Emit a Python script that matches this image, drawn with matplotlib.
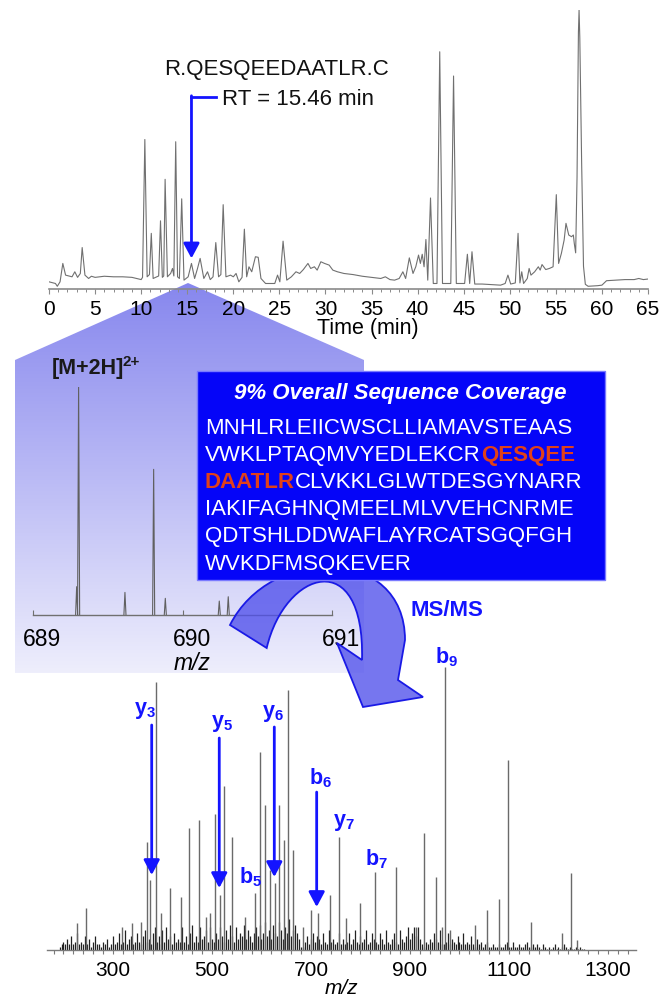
import numpy as np
import matplotlib
matplotlib.use("Agg")
import matplotlib.pyplot as plt
from matplotlib.path import Path
from matplotlib.patches import PathPatch, Polygon, Rectangle
from matplotlib.ticker import MultipleLocator, FixedLocator
import matplotlib.transforms as mtransforms

plt.rcParams["font.family"] = ["Liberation Sans", "DejaVu Sans"]
plt.rcParams["mathtext.fontset"] = "custom"
plt.rcParams["mathtext.rm"] = "Liberation Sans"
plt.rcParams["mathtext.bf"] = "Liberation Sans:bold"
plt.rcParams["mathtext.it"] = "Liberation Sans:italic"

# ======================= DATA =======================
# --- base peak chromatogram (time in min, relative intensity %) ---
chrom_time = [0, 0.7, 0.9, 1.2, 1.5, 1.8, 2.5, 2.8, 3.1, 3.4, 3.6, 3.9, 4.3, 4.6, 5, 6, 7, 8, 9, 10,
              10.15, 10.4, 10.65, 10.9, 11.1, 11.3, 11.7, 11.9, 12.1, 12.3, 12.45, 12.6, 12.85, 13.2,
              13.4, 13.55, 13.75, 13.95, 14.15, 14.4, 14.65, 15.1, 15.46, 15.8, 16.1, 16.4, 16.8, 17.2,
              17.5, 17.8, 18.1, 18.4, 18.65, 18.9, 19.2, 19.7, 20.0, 20.3, 20.6, 20.95, 21.2, 21.45,
              21.7, 22.0, 22.4, 22.7, 23.0, 23.5, 24.5, 24.8, 25.05, 25.4, 25.8, 26.3, 26.8, 27.2, 27.6,
              28.1, 28.4, 28.8, 29.1, 29.5, 29.9, 30.4, 30.8, 31.3, 32, 33, 34, 35, 36, 36.5, 37, 37.5,
              38.0, 38.4, 38.7, 39.1, 39.5, 39.8, 40.1, 40.3, 40.5, 40.7, 40.9, 41.1, 41.4, 41.7, 42.1,
              42.4, 42.7, 43.6, 43.9, 44.2, 45.1, 45.4, 45.65, 45.9, 46.2, 47, 48, 49, 49.5, 49.8, 50.1,
              50.6, 50.9, 51.1, 51.3, 51.5, 51.9, 52.1, 52.3, 52.7, 53.1, 53.3, 53.5, 53.9, 54.3, 54.7,
              55.05, 55.3, 55.6, 55.9, 56.1, 56.4, 56.7, 56.9, 57.0, 57.15, 57.3, 57.45, 57.52, 57.6,
              57.8, 58.0, 58.2, 58.5, 59.5, 60.0, 60.5, 61.5, 62.5, 63.5, 64, 64.5, 65]
chrom_int = [2.4, 1.8, 0.8, 2.4, 9.0, 4.8, 4.2, 6.0, 4.0, 5.4, 14.7, 4.8, 3.6, 4.4, 4.0, 4.4, 4.2, 4.2, 4.0, 3.2,
             4.0, 53.5, 4.2, 5.0, 19.8, 3.6, 4.2, 4.5, 24.3, 4.0, 4.5, 39.2, 4.2, 5.4,
             7.2, 4.5, 52.7, 4.2, 3.6, 32.2, 3.0, 4.2, 9.0, 3.6, 7.0, 10.8, 3.6, 6.0,
             3.2, 4.2, 16.5, 4.2, 5.0, 30.1, 4.2, 4.8, 4.2, 5.4, 2.4, 4.0, 21.3, 4.2,
             7.8, 6.0, 11.4, 11.2, 3.6, 1.8, 1.8, 4.8, 2.4, 17.0, 3.0, 4.2, 6.0, 5.4, 6.8,
             9.0, 7.2, 7.8, 6.6, 9.6, 9.0, 8.4, 6.6, 6.0, 5.4, 5.0, 4.4, 4.0, 3.6, 4.2, 3.2, 3.0,
             3.6, 6.0, 3.6, 11.0, 5.4, 7.8, 12.0, 9.0, 12.3, 7.8, 17.6, 3.0, 32.5, 1.8, 1.8,
             85.0, 1.8, 1.8, 76.3, 1.8, 1.8, 12.3, 1.8, 13.2, 1.6, 1.6, 1.4, 1.2, 1.8, 4.8, 1.6,
             2.0, 19.8, 2.0, 6.0, 1.8, 3.6, 7.2, 4.8, 6.0, 7.8, 6.6, 8.6, 6.8, 7.2, 7.8,
             33.7, 9.0, 12.6, 17.4, 23.4, 19.2, 18.6, 19.2, 16.2, 12.8, 40.0, 92.0, 100.0, 90.0,
             45.0, 8.0, 1.5, 0.8, 1.0, 1.2, 2.8, 3.0, 3.2, 3.2, 3.6, 3.2, 3.4]
chrom_ticks = [0, 5, 10, 15, 20, 25, 30, 35, 40, 45, 50, 55, 60, 65]
rt_target = 15.46
peptide_label = "R.QESQEEDAATLR.C"
rt_label = "RT = 15.46 min"

# --- precursor (MS1) spectrum ---
ms1_mz = [689.290, 689.303, 689.613, 689.805, 689.883, 690.244, 690.304]
ms1_int = [12.4, 100.0, 9.9, 63.8, 7.3, 6.1, 8.0]
ms1_ticks = [689, 690, 691]
ms1_label = "[M+2H]"
ms1_charge = "2+"

# --- sequence coverage ---
seq_title = "9% Overall Sequence Coverage"
seq_lines = [
    [("MNHLRLEIICWSCLLIAMAVSTEAAS", False)],
    [("VWKLPTAQMVYEDLEKCR", False), ("QESQEE", True)],
    [("DAATLR", True), ("CLVKKLGLWTDESGYNARR", False)],
    [("IAKIFAGHNQMEELMLVVEHCNRME", False)],
    [("QDTSHLDDWAFLAYRCATSGQFGH", False)],
    [("WVKDFMSQKEVER", False)],
]

# --- MS/MS spectrum ---
msms_peak_mz = [227.1, 246.2, 317.4, 339.1, 356.4, 369.4, 373.8, 386.8, 397.2, 414.6, 437.1, 454.5,
                472.8, 488.4, 497.0, 505.7, 515.3, 523.9, 540.4, 566.5, 586.4, 597.7, 606.4, 617.7,
                626.4, 635.0, 645.5, 654.1, 662.8, 683.7, 699.3, 714.9, 739.2, 757.4, 770.5, 799.1,
                829.5, 871.1, 911.9, 928.4, 951.9, 964.9, 970.1, 981.4, 1030.8, 1056.0, 1079.5,
                1097.8, 1144.6, 1207.1, 1224.4, 1237.4]
msms_peak_int = [9.4, 14.7, 8.2, 9.4, 10.0, 38.2, 24.7, 94.7, 13.0, 21.8, 18.8, 43.0,
                 45.9, 11.8, 13.0, 48.2, 19.4, 57.9, 40.0, 11.8, 20.0, 70.0, 51.4, 28.2,
                 23.5, 51.2, 38.8, 91.8, 35.3, 8.2, 14.0, 13.0, 19.4, 40.0, 11.2, 16.5,
                 27.6, 29.4, 8.2, 41.4, 25.9, 8.2, 100.0, 7.0, 8.8, 14.1, 17.9,
                 67.3, 10.0, 5.9, 27.3, 3.5]
noise_start = 192
noise_step = 4
noise_int = [1, 2, 3, 2, 4, 2, 5, 2, 3, 6, 2, 3, 2, 5, 2, 4, 1, 3, 5, 2,
             2, 1, 3, 2, 4, 1, 2, 5, 2, 3, 6, 2, 3, 7, 2, 4, 5, 2, 3, 6,
             3, 2, 5, 7, 3, 4, 2, 6, 8, 3, 5, 2, 7, 3, 8, 4, 5, 2, 6, 3,
             4, 3, 8, 3, 5, 2, 6, 9, 3, 5, 3, 8, 4, 5, 7, 3, 8, 4, 3, 6,
             4, 8, 5, 3, 7, 4, 9, 5, 3, 8, 4, 6, 5, 9, 4, 7, 5, 3, 6, 8,
             5, 9, 4, 6, 10, 5, 7, 4, 9, 6, 5, 10, 7, 4, 8, 6, 11, 5, 7, 9,
             6, 4, 1, 1, 3, 5, 2, 4, 6, 3, 5, 4, 2, 6, 3, 2, 7, 3, 4, 2,
             3, 6, 2, 4, 2, 3, 6, 2, 4, 7, 3, 2, 5, 3, 4, 7, 2, 3, 6, 4,
             3, 2, 6, 4, 2, 7, 3, 2, 4, 6, 3, 2, 7, 4, 3, 5, 8, 4, 6, 8,
             5, 8, 4, 2, 1, 3, 2, 4, 3, 6, 4, 3, 7, 2, 2, 3, 6, 2, 4, 3,
             2, 5, 3, 2, 6, 2, 3, 2, 5, 2, 1, 4, 2, 3, 1, 2, 3, 1, 1, 2,
             1, 1, 2, 1, 1, 2, 3, 1, 1, 3, 1, 1, 2, 1, 1, 2, 3, 1, 1, 2,
             1, 2, 1, 0.5, 2, 1, 0.5, 1, 0.5, 1, 2, 0.5, 1, 0.5, 1, 2, 1, 0.5, 1, 0.5,
             0.5, 1, 0.5, 1, 0.5, 0.5, 0, 0]
msms_ticks = [300, 500, 700, 900, 1100, 1300]

# fragment ions: label anchor (m/z, %) and arrowed ions
ion_names = ["y3", "y5", "y6", "b6", "b5", "y7", "b7", "b9"]
ion_label_mz = [364.6, 519.6, 622.2, 719.8, 578.4, 766.7, 833.3, 973.3]
ion_label_int = [84.8, 80.2, 83.4, 60.8, 25.8, 45.2, 32.2, 103.6]
arrow_mz = [378.2, 514.7, 625.9, 711.5]
arrow_top = [79.5, 74.9, 78.8, 55.8]
arrow_tip = [26.5, 21.9, 25.8, 15.2]

# ======================= LAYOUT / STYLE =======================
W, H = 666, 999
BLUE = "#1414ff"
RED = "#e0401a"
fig = plt.figure(figsize=(W / 100, H / 100), dpi=100)


def px_axes(x0, y0, x1, y1, z):
    ax = fig.add_axes([x0 / W, 1 - y1 / H, (x1 - x0) / W, (y1 - y0) / H])
    ax.set_zorder(z)
    ax.patch.set_alpha(0)
    return ax


def overlay(z):
    ax = px_axes(0, 0, W, H, z)
    ax.axis("off")
    return ax


# ---- background: zoom panel with gradient ----
bg = overlay(0)
grad = np.linspace(0, 1, 256)[:, None, None]
c_top = np.array([135, 135, 238]) / 255.0
c_bot = np.array([238, 238, 252]) / 255.0
img = c_top + (c_bot - c_top) * grad
im = bg.imshow(img, extent=(15, 364, 673, 283), aspect="auto", interpolation="bilinear")
panel = Polygon([(15, 673), (15, 360), (188, 283), (364, 360), (364, 673)],
                closed=True, facecolor="none", edgecolor="none")
bg.add_patch(panel)
im.set_clip_path(panel)
bg.set_xlim(0, W)
bg.set_ylim(H, 0)

arrowkw = dict(arrowstyle="-|>,head_length=0.45,head_width=0.24", color=BLUE, lw=2.0,
               mutation_scale=20, shrinkA=0, shrinkB=0)

# ---- chromatogram ----
ch = px_axes(49, 10, 648, 288.5, 1)
ch.plot(chrom_time, chrom_int, color="#707070", lw=0.8)
ch.set_xlim(0, 65)
ch.set_ylim(0, 100)
for s in ("left", "right", "top"):
    ch.spines[s].set_visible(False)
ch.spines["bottom"].set_color("#8a8a8a")
ch.spines["bottom"].set_linewidth(1.2)
ch.set_yticks([])
ch.xaxis.set_major_locator(FixedLocator(chrom_ticks))
ch.xaxis.set_minor_locator(MultipleLocator(1))
ch.tick_params(axis="x", which="major", direction="out", length=3.5, width=0.8,
               color="#8a8a8a", labelsize=15, pad=4.5)
ch.tick_params(axis="x", which="minor", direction="out", length=2.5, width=0.7, color="#8a8a8a")
ch.set_xlabel("Time (min)", fontsize=15.5)
ch.xaxis.label.set_verticalalignment("center")
ch.xaxis.set_label_coords(0.533, -0.142)
# RT marker
ch.plot([18.07, rt_target], [68.7, 68.7], color=BLUE, lw=2.0, solid_capstyle="projecting")
ch.annotate("", xy=(rt_target, 10.8), xytext=(rt_target, 69.2), arrowprops=arrowkw)

# ---- precursor MS1 spectrum ----
m1 = px_axes(33.3, 386.7, 332.3, 615, 1)
hw = 0.007
for m, h in zip(ms1_mz, ms1_int):
    m1.plot([m - hw, m, m + hw], [0, h, 0], color="#606060", lw=0.8)
m1.set_xlim(689, 691)
m1.set_ylim(0, 100)
for s in ("left", "right", "top"):
    m1.spines[s].set_visible(False)
m1.spines["bottom"].set_color("#707070")
m1.spines["bottom"].set_linewidth(1.0)
m1.set_yticks([])
m1.xaxis.set_major_locator(FixedLocator(ms1_ticks))
m1.tick_params(axis="x", direction="in", length=3.5, width=0.8, color="#707070", labelbottom=False)
off = lambda dx, dy: mtransforms.ScaledTranslation(dx / 100, dy / 100, fig.dpi_scale_trans)
for v in ms1_ticks:
    m1.text(v, 0, str(v), transform=m1.get_xaxis_transform() + off(9, -13),
            ha="center", va="top", fontsize=16.5)
m1.text(690, 0, "m/z", transform=m1.get_xaxis_transform() + off(9, -37.5), ha="center",
        va="top", fontsize=16.5, style="italic")

# ---- MS/MS spectrum ----
ms = px_axes(47, 667, 636, 950, 1)
noise_mz = noise_start + noise_step * np.arange(len(noise_int))
ms.vlines(noise_mz, 0, noise_int, color="#222222", lw=0.9)
ms.vlines(msms_peak_mz, 0, msms_peak_int, color="#6a6a6a", lw=1.0)
ms.set_xlim(166.7, 1356.6)
ms.set_ylim(0, 100)
for s in ("left", "right", "top"):
    ms.spines[s].set_visible(False)
ms.spines["bottom"].set_color("#7a7a7a")
ms.spines["bottom"].set_linewidth(1.0)
ms.set_yticks([])
ms.xaxis.set_major_locator(FixedLocator(msms_ticks))
ms.xaxis.set_minor_locator(MultipleLocator(20))
ms.tick_params(axis="x", which="both", direction="out", length=3, width=0.8, color="#7a7a7a")
ms.tick_params(axis="x", which="major", labelsize=15, pad=5)
ms.set_xlabel("m/z", fontsize=15, style="italic")
ms.xaxis.label.set_verticalalignment("center")
ms.xaxis.set_label_coords(0.5, -0.137)
for m, top, tip in zip(arrow_mz, arrow_top, arrow_tip):
    ms.annotate("", xy=(m, tip), xytext=(m, top), arrowprops=arrowkw, annotation_clip=False)
for name, m, h in zip(ion_names, ion_label_mz, ion_label_int):
    ms.text(m, h, r"$\mathbf{%s_{%s}}$" % (name[0], name[1:]), color=BLUE, fontsize=15.5,
            ha="center", va="center", clip_on=False)

# ---- foreground: sequence box, curved arrow, labels ----
fg = overlay(5)
fg.set_xlim(0, W)
fg.set_ylim(H, 0)
P = Path
verts = [(230, 625), (270, 545), (405, 545), (405, 640), (398, 680), (423, 697), (363, 707),
         (337, 643), (362, 660), (365, 545), (285, 570), (266.7, 648), (230, 625), (230, 625)]
codes = [P.MOVETO, P.CURVE4, P.CURVE4, P.CURVE4, P.LINETO, P.LINETO, P.LINETO, P.LINETO,
         P.LINETO, P.CURVE4, P.CURVE4, P.CURVE4, P.LINETO, P.CLOSEPOLY]
fg.add_patch(PathPatch(Path(verts, codes), facecolor=(80 / 255, 80 / 255, 235 / 255, 0.78),
                       edgecolor="#1a1ae6", lw=1.3, zorder=1))
fg.add_patch(Rectangle((197, 371), 408, 209, facecolor="#0505f8", edgecolor="#7a7aff",
                       lw=1.0, zorder=2))
fg.text(400, 393, seq_title, color="white", fontsize=16, fontweight="bold", style="italic",
        ha="center", va="center", zorder=3)
y0, dy = 428.3, 27.15
for i, parts in enumerate(seq_lines):
    prev = None
    for txt, hl in parts:
        kw = dict(color=RED if hl else "white", fontsize=16,
                  fontweight="bold" if hl else "normal", zorder=3)
        if prev is None:
            prev = fg.text(205, y0 + i * dy, txt, ha="left", va="center", **kw)
        else:
            prev = fg.annotate(txt, xy=(1, 0), xycoords=prev, ha="left", va="bottom", **kw)

fg.text(446.5, 610, "MS/MS", color=BLUE, fontsize=16, fontweight="bold", ha="center",
        va="center", zorder=3)
t = fg.text(51.7, 368.5, ms1_label, fontsize=15.5, fontweight="bold", ha="left",
            va="center", color="#1a1a1a", zorder=3)
fg.annotate(ms1_charge, xy=(1, 1), xycoords=t, xytext=(-1, 2), textcoords="offset points",
            ha="left", va="top", fontsize=11, fontweight="bold", color="#1a1a1a", zorder=3)
fg.text(276, 69.5, peptide_label, fontsize=16, ha="center", va="center", color="#111111")
fg.text(222, 99.3, rt_label, fontsize=16, ha="left", va="center", color="#111111")

fig.savefig("out.png", dpi=100)
